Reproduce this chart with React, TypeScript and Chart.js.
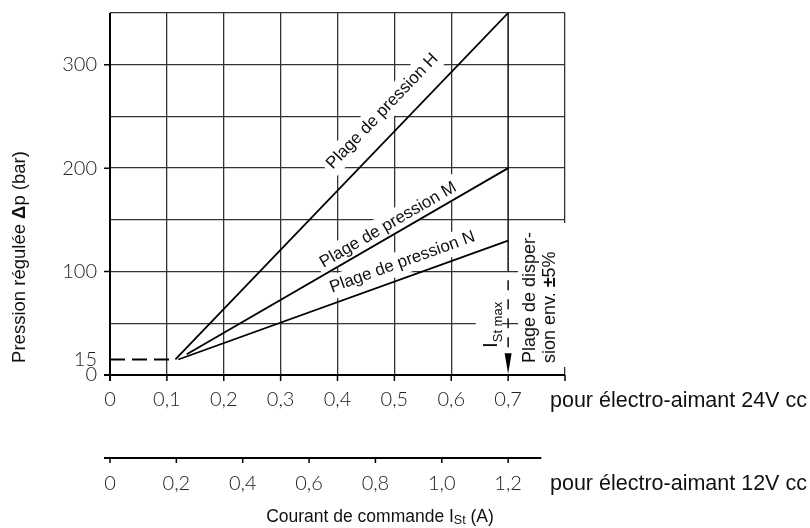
import React, { useEffect, useRef } from "react";
import { Chart, registerables } from "chart.js";

Chart.register(...registerables);

// ---- data ----
const currentH = [0.115, 0.7];
const pressureH = [15, 350];
const currentM = [0.135, 0.7];
const pressureM = [20, 200];
const currentN = [0.12, 0.7];
const pressureN = [15, 130];
const minCurrent = [0, 0.115];
const minPressure = [15, 15];

const iStMaxCurrent = [0.7, 0.7];
const iStMaxSolidPressure = [350, 110];
const iStMaxDashedPressure = [110, 21];

const yTickValues = [0, 15, 100, 200, 300];
const yTickLabels = ["0", "15", "100", "200", "300"];
const yTickMarks = [0, 100, 200, 300];
const xTicks24 = [0, 0.1, 0.2, 0.3, 0.4, 0.5, 0.6, 0.7];
const xTickLabels24 = ["0", "0,1", "0,2", "0,3", "0,4", "0,5", "0,6", "0,7"];
const xTickMarks24 = [0, 0.1, 0.2, 0.3, 0.4, 0.5, 0.6, 0.7, 0.8];
const xTicks12 = [0, 0.2, 0.4, 0.6, 0.8, 1.0, 1.2];
const xTickLabels12 = ["0", "0,2", "0,4", "0,6", "0,8", "1,0", "1,2"];

const xMax24 = 0.8;
const yMax = 350;
const iStMax24 = 0.7;
const iStMax12 = 1.2;
const axis12End = 1.3;

const lineLabelTexts = ["Plage de pression H", "Plage de pression M", "Plage de pression N"];
const lineLabelCurrents = [0.479, 0.489, 0.514];
const lineLabelPressures = [255, 145, 109];

const sans = '"Liberation Sans", Arial, Helvetica, sans-serif';
const tickFont = '300 20px Lato, "DejaVu Sans", sans-serif';

type Run = { text: string; font: string; dy?: number };

function runsWidth(ctx: CanvasRenderingContext2D, runs: Run[]) {
  let w = 0;
  for (const r of runs) {
    ctx.font = r.font;
    w += ctx.measureText(r.text).width;
  }
  return w;
}

function drawRuns(ctx: CanvasRenderingContext2D, runs: Run[], x0: number, y0: number) {
  let x = x0;
  for (const r of runs) {
    ctx.font = r.font;
    ctx.fillText(r.text, x, y0 + (r.dy || 0));
    x += ctx.measureText(r.text).width;
  }
}

const customPlugin = {
  id: "customDraw",
  beforeDatasetsDraw(chart: any) {
    const ctx: CanvasRenderingContext2D = chart.ctx;
    const xs = chart.scales.x;
    const ys = chart.scales.y;
    const area = chart.chartArea;
    ctx.save();
    ctx.fillStyle = "#ffffff";
    const lines = [
      [currentH, pressureH],
      [currentM, pressureM],
      [currentN, pressureN],
    ];
    ctx.font = `17px ${sans}`;
    lineLabelTexts.forEach((t, i) => {
      const [cx, cy] = lines[i];
      const ang = Math.atan2(
        ys.getPixelForValue(cy[1]) - ys.getPixelForValue(cy[0]),
        xs.getPixelForValue(cx[1]) - xs.getPixelForValue(cx[0])
      );
      const px = xs.getPixelForValue(lineLabelCurrents[i]);
      const py = ys.getPixelForValue(lineLabelPressures[i]);
      const w = ctx.measureText(t).width;
      ctx.save();
      ctx.translate(px, py);
      ctx.rotate(ang);
      ctx.fillRect(-w / 2 - 4, -12, w + 8, 24);
      ctx.restore();
    });
    const ix = xs.getPixelForValue(0.673);
    const iy = ys.getPixelForValue(26);
    ctx.fillRect(ix - 17, iy - 58, 26, 62);
    const d1 = xs.getPixelForValue(0.7385);
    const dy = ys.getPixelForValue(11.6);
    ctx.fillRect(d1 - 12, dy - 140, area.right + 3 - (d1 - 12), 144);
    ctx.restore();
  },
  afterDatasetsDraw(chart: any) {
    const ctx: CanvasRenderingContext2D = chart.ctx;
    const xs = chart.scales.x;
    const x12 = chart.scales.x12;
    const ys = chart.scales.y;
    const area = chart.chartArea;
    ctx.save();
    ctx.strokeStyle = "#000";
    ctx.fillStyle = "#111";

    ctx.lineWidth = 2;
    ctx.beginPath();
    ctx.moveTo(area.left, area.top);
    ctx.lineTo(area.left, area.bottom + 6);
    ctx.moveTo(area.left - 6, area.bottom);
    ctx.lineTo(area.right, area.bottom);
    ctx.stroke();

    ctx.lineWidth = 1.5;
    ctx.beginPath();
    for (const v of yTickMarks) {
      const p = ys.getPixelForValue(v);
      ctx.moveTo(area.left - 6, p);
      ctx.lineTo(area.left, p);
    }
    for (const v of xTickMarks24) {
      const p = xs.getPixelForValue(v);
      ctx.moveTo(p, area.bottom);
      ctx.lineTo(p, area.bottom + 6);
    }
    ctx.stroke();

    const ax = xs.getPixelForValue(iStMax24);
    const aTop = ys.getPixelForValue(iStMaxDashedPressure[1]);
    ctx.beginPath();
    ctx.moveTo(ax - 3.5, aTop);
    ctx.lineTo(ax + 3.5, aTop);
    ctx.lineTo(ax, area.bottom - 1);
    ctx.closePath();
    ctx.fillStyle = "#000";
    ctx.fill();

    ctx.fillStyle = "#222";
    ctx.font = tickFont;
    ctx.textAlign = "right";
    ctx.textBaseline = "middle";
    yTickValues.forEach((v, i) => {
      ctx.fillText(yTickLabels[i], area.left - 13, ys.getPixelForValue(v));
    });
    ctx.textAlign = "center";
    xTicks24.forEach((v, i) => {
      ctx.fillText(xTickLabels24[i], xs.getPixelForValue(v), area.bottom + 25);
    });

    const y12 = area.bottom + 83;
    ctx.strokeStyle = "#000";
    ctx.lineWidth = 2;
    ctx.beginPath();
    ctx.moveTo(x12.getPixelForValue(0) - 6, y12);
    ctx.lineTo(x12.getPixelForValue(axis12End), y12);
    ctx.stroke();
    ctx.lineWidth = 1.5;
    ctx.beginPath();
    for (const v of xTicks12) {
      const p = x12.getPixelForValue(v);
      ctx.moveTo(p, y12);
      ctx.lineTo(p, y12 + 5);
    }
    ctx.stroke();
    ctx.font = tickFont;
    xTicks12.forEach((v, i) => {
      ctx.fillText(xTickLabels12[i], x12.getPixelForValue(v), y12 + 26);
    });

    ctx.fillStyle = "#111";
    ctx.textAlign = "left";
    ctx.font = `21.5px ${sans}`;
    ctx.fillText("pour électro-aimant 24V cc", area.right - 15, area.bottom + 26);
    ctx.fillText("pour électro-aimant 12V cc", area.right - 15, y12 + 26);

    const tRuns: Run[] = [
      { text: "Courant de commande I", font: `17.5px ${sans}` },
      { text: "St", font: `12.5px ${sans}`, dy: 4 },
      { text: " (A)", font: `17.5px ${sans}` },
    ];
    const tw = runsWidth(ctx, tRuns);
    drawRuns(ctx, tRuns, 380 - tw / 2, area.bottom + 142);

    const yRuns: Run[] = [
      { text: "Pression régulée ", font: `18.5px ${sans}` },
      { text: "Δ", font: `bold 18.5px ${sans}` },
      { text: "p (bar)", font: `18.5px ${sans}` },
    ];
    const yw = runsWidth(ctx, yRuns);
    ctx.save();
    ctx.translate(20, 257);
    ctx.rotate(-Math.PI / 2);
    drawRuns(ctx, yRuns, -yw / 2, 0);
    ctx.restore();

    const lines = [
      [currentH, pressureH],
      [currentM, pressureM],
      [currentN, pressureN],
    ];
    ctx.font = `17px ${sans}`;
    ctx.textAlign = "center";
    ctx.textBaseline = "middle";
    lineLabelTexts.forEach((t, i) => {
      const [cx, cy] = lines[i];
      const ang = Math.atan2(
        ys.getPixelForValue(cy[1]) - ys.getPixelForValue(cy[0]),
        xs.getPixelForValue(cx[1]) - xs.getPixelForValue(cx[0])
      );
      ctx.save();
      ctx.translate(xs.getPixelForValue(lineLabelCurrents[i]), ys.getPixelForValue(lineLabelPressures[i]));
      ctx.rotate(ang);
      ctx.fillText(t, 0, 0);
      ctx.restore();
    });

    ctx.textAlign = "left";
    ctx.textBaseline = "alphabetic";
    ctx.save();
    ctx.translate(xs.getPixelForValue(0.673) + 4, ys.getPixelForValue(26));
    ctx.rotate(-Math.PI / 2);
    drawRuns(
      ctx,
      [
        { text: "I", font: `21px ${sans}` },
        { text: "St max", font: `13px ${sans}`, dy: 5 },
      ],
      0,
      0
    );
    ctx.restore();

    ctx.textBaseline = "middle";
    const dStart = ys.getPixelForValue(11.6);
    ctx.save();
    ctx.translate(xs.getPixelForValue(0.7385), dStart);
    ctx.rotate(-Math.PI / 2);
    drawRuns(ctx, [{ text: "Plage de disper-", font: `18px ${sans}` }], 0, 0);
    ctx.restore();
    ctx.save();
    ctx.translate(xs.getPixelForValue(0.7736), dStart);
    ctx.rotate(-Math.PI / 2);
    drawRuns(
      ctx,
      [
        { text: "sion env. ", font: `18px ${sans}` },
        { text: "±", font: `bold 18px ${sans}` },
        { text: "5%", font: `18px ${sans}` },
      ],
      0,
      0
    );
    ctx.restore();

    ctx.restore();
  },
};

export default function App() {
  const ref = useRef<HTMLCanvasElement | null>(null);

  useEffect(() => {
    document.body.style.margin = "0";
    const canvas = ref.current;
    if (!canvas) return;
    const gridColor = (c: any) => {
      const v = c.tick ? c.tick.value : null;
      if (v !== null && Math.abs(v) < 1e-9) return "rgba(0,0,0,0)";
      return "#333333";
    };
    const xGridColor = (c: any) => {
      const v = c.tick ? c.tick.value : null;
      if (v !== null && Math.abs(v - iStMax24) < 1e-9) return "rgba(0,0,0,0)";
      return gridColor(c);
    };
    const line = (xv: number[], yv: number[], extra: any = {}) => ({
      data: xv.map((x, i) => ({ x, y: yv[i] })),
      showLine: true,
      borderColor: "#000",
      borderWidth: 1.8,
      pointRadius: 0,
      fill: false,
      ...extra,
    });
    const chart = new Chart(canvas, {
      type: "scatter",
      data: {
        datasets: [
          line(currentH, pressureH),
          line(currentM, pressureM),
          line(currentN, pressureN),
          line(minCurrent, minPressure, { borderDash: [15, 7] }),
          line(iStMaxCurrent, iStMaxSolidPressure, { borderWidth: 1.4 }),
          line(iStMaxCurrent, iStMaxDashedPressure, { borderWidth: 1.4, borderDash: [10, 9] }),
        ],
      },
      options: {
        animation: false,
        responsive: false,
        devicePixelRatio: 1,
        layout: { padding: { left: 110, top: 13, right: 245, bottom: 153 } },
        plugins: { legend: { display: false }, tooltip: { enabled: false } },
        scales: {
          x: {
            type: "linear",
            min: 0,
            max: xMax24,
            ticks: { display: false, stepSize: 0.1 },
            grid: { color: xGridColor, lineWidth: 1.3, drawTicks: false },
            border: { display: false },
          },
          x12: {
            type: "linear",
            display: false,
            position: "bottom",
            min: 0,
            max: (xMax24 * iStMax12) / iStMax24,
          },
          y: {
            type: "linear",
            min: 0,
            max: yMax,
            ticks: { display: false, stepSize: 50 },
            grid: { color: gridColor, lineWidth: 1.3, drawTicks: false },
            border: { display: false },
          },
        },
      },
      plugins: [customPlugin],
    } as any);
    return () => chart.destroy();
  }, []);

  return <canvas ref={ref} width={810} height={528} style={{ display: "block" }} />;
}
